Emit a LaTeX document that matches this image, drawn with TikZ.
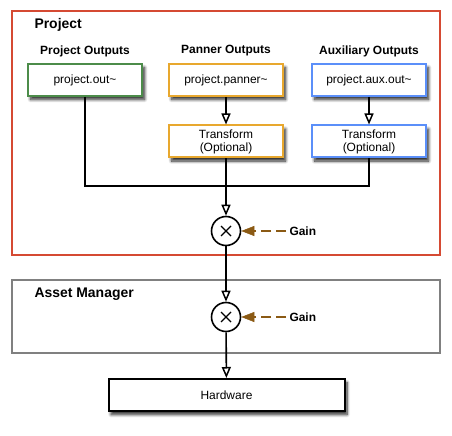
\documentclass[tikz,border=0pt]{standalone}
\usepackage{fontspec}
\setmainfont{Liberation Sans}
\usetikzlibrary{arrows.meta,shadows.blur,calc}
\definecolor{cred}{HTML}{D54A33}
\definecolor{cgreen}{HTML}{4C8C4A}
\definecolor{corange}{HTML}{E8A82E}
\definecolor{cblue}{HTML}{5B8FF9}
\definecolor{cgray}{HTML}{808080}
\definecolor{cbrown}{HTML}{8B5A14}
\tikzset{
  box/.style={draw, line width=2bp, fill=white, minimum width=114bp, minimum height=32bp,
    inner sep=0pt, align=center, font=\fontsize{12}{13}\selectfont,
    blur shadow={shadow xshift=2.5bp, shadow yshift=-3.5bp, shadow blur steps=8, shadow blur radius=3bp, shadow opacity=85}},
  head/.style={font=\bfseries\fontsize{12}{14}\selectfont},
  title/.style={font=\bfseries\fontsize{14}{16}\selectfont, anchor=west},
  frame/.style={line width=1.6bp},
  conn/.style={line width=1.6bp},
  tip/.style={-{Triangle[length=11bp,width=9bp,fill=white,line width=1.5bp]}},
  mult/.style={circle, draw, line width=1.6bp, fill=white, minimum size=29bp, inner sep=0pt},
  gainlbl/.style={font=\bfseries\fontsize{12}{14}\selectfont, anchor=west},
  gainarrow/.style={draw=cbrown, line width=1.6bp, dash pattern=on 10bp off 5bp,
    -{Triangle[length=13bp,width=10bp,fill=cbrown,line width=0.5bp,color=cbrown]}}
}
\begin{document}
\begin{tikzpicture}[x=1bp,y=-1bp]
\useasboundingbox (0,0) rectangle (452,436);
% frames
\draw[frame, cred] (12,11) rectangle (440,255);
\draw[frame, cgray] (12,280) rectangle (440,353);
\node[title] (tproj) at (31,25) {Project};
\node[title] (tasset) at (31,294) {Asset Manager};
% headers
\node[head] (h1) at (85,51) {Project Outputs};
\node[head] (h2) at (226,51) {Panner Outputs};
\node[head] (h3) at (369,51) {Auxiliary Outputs};
% boxes
\node[box, draw=cgreen] (pout) at (85,80) {project.out\textasciitilde};
\node[box, draw=corange] (pan) at (226,80) {project.panner\textasciitilde};
\node[box, draw=cblue] (aux) at (369,80) {project.aux.out\textasciitilde};
\node[box, draw=corange] (ptr) at (226,141.5) {Transform\\(Optional)};
\node[box, draw=cblue] (atr) at (369,141.5) {Transform\\(Optional)};
% multipliers
\node[mult] (m1) at (226,231) {};
\node[mult] (m2) at (226,317) {};
\foreach \m in {m1,m2}{
  \draw[line width=1.3bp] ($(\m)+(-5,-5)$) -- ($(\m)+(5,5)$);
  \draw[line width=1.3bp] ($(\m)+(-5,5)$) -- ($(\m)+(5,-5)$);
}
% hardware
\node[box, draw=black, minimum width=236bp] (hw) at (226.5,395) {Hardware};
% connectors
\coordinate (j) at (226,186);
\draw[conn, tip] (pan) -- (ptr);
\draw[conn, tip] (aux) -- (atr);
\draw[conn] (pout.south) |- (j);
\draw[conn] (atr.south) |- (j);
\draw[conn, tip] (ptr) -- (m1);
\draw[conn, tip] (m1) -- (m2);
\draw[conn, tip] (m2) -- (hw);
% gains
\node[gainlbl] (g1) at (286,231) {Gain};
\node[gainlbl] (g2) at (286,317) {Gain};
\draw[gainarrow] (g1.west) -- (m1.east);
\draw[gainarrow] (g2.west) -- (m2.east);
\end{tikzpicture}
\end{document}
